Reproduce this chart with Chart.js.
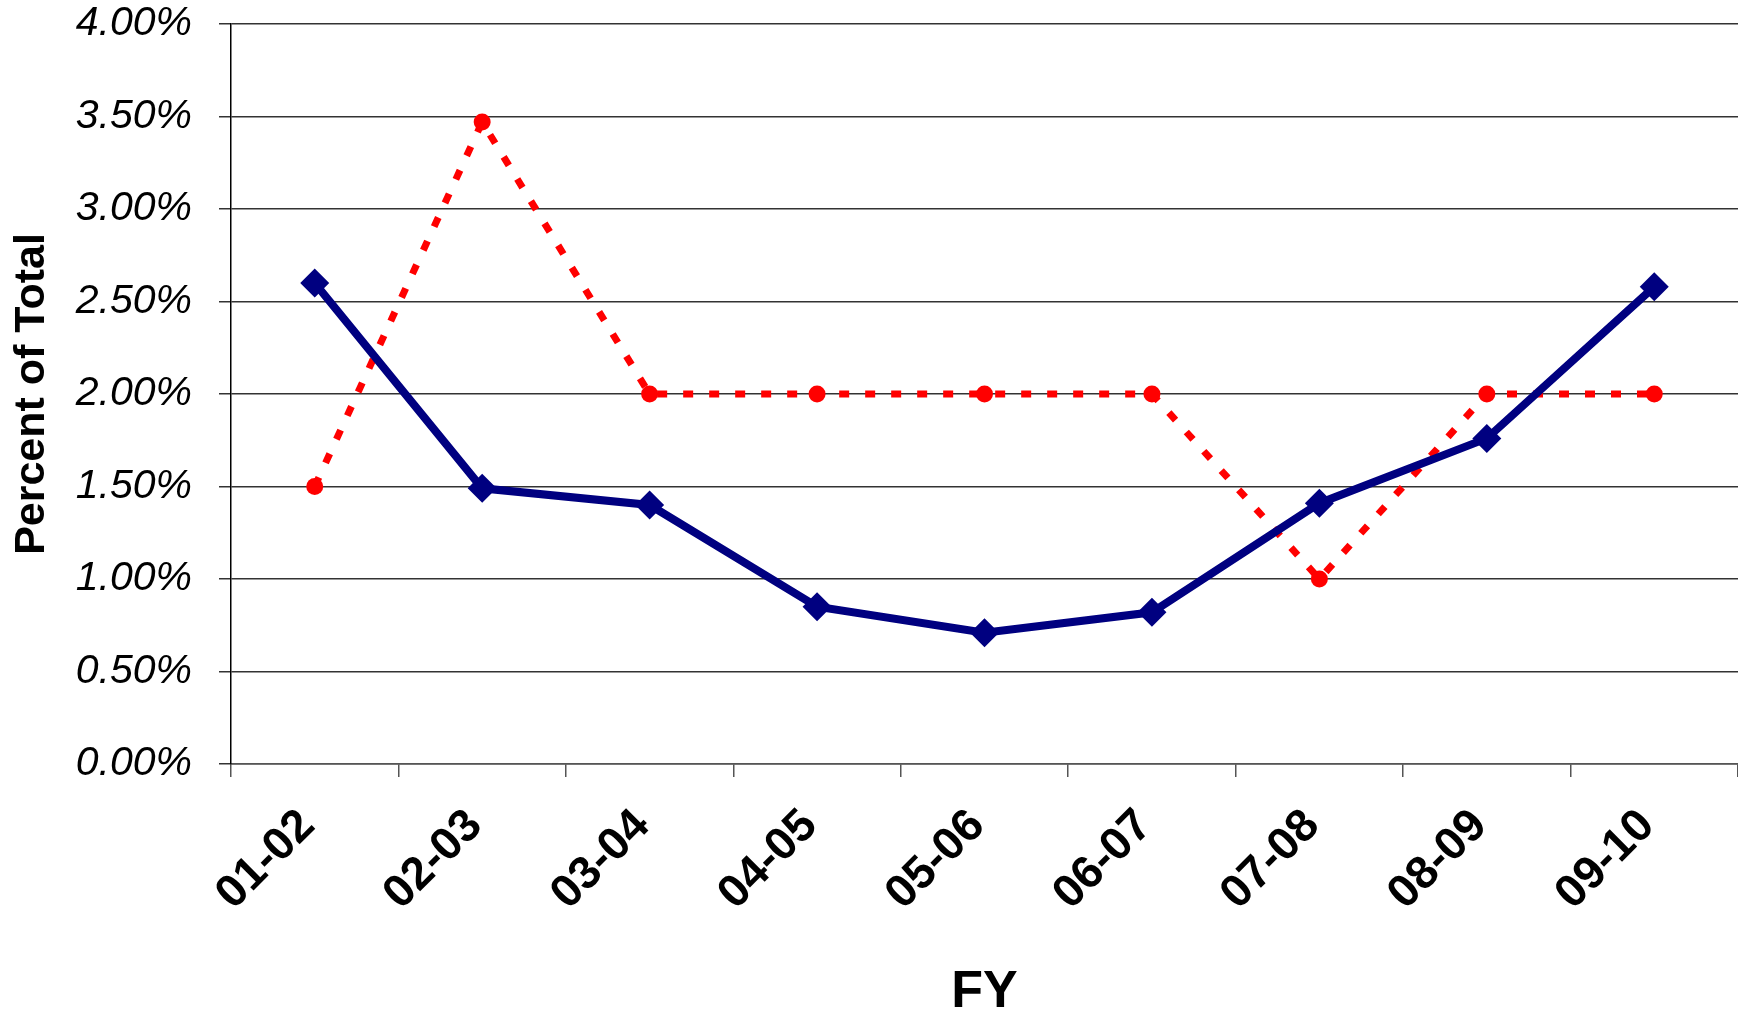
<!DOCTYPE html>
<html>
<head>
<meta charset="utf-8">
<script src="https://cdn.jsdelivr.net/npm/chart.js@4.4.0/dist/chart.umd.min.js"></script>
<style>
    html, body { margin: 0; padding: 0; background: #fff; }
    #wrap { width: 1738px; height: 1021px; }
</style>
</head>
<body>
<div id="wrap"><canvas id="chart" width="1738" height="1021"></canvas></div>
<script>
"use strict"

// Data
const years = ["01-02", "02-03", "03-04", "04-05", "05-06", "06-07", "07-08", "08-09", "09-10"];
const blueValues = [2.60, 1.49, 1.40, 0.85, 0.71, 0.82, 1.41, 1.76, 2.58];
const redValues = [1.50, 3.47, 2.00, 2.00, 2.00, 2.00, 1.00, 2.00, 2.00];
const yTicks = [0, 0.5, 1, 1.5, 2, 2.5, 3, 3.5, 4];

const FONT = "'Liberation Sans', Arial, Helvetica, sans-serif";

const ctx = document.getElementById("chart").getContext("2d");

new Chart(ctx, {
    type: "line",
    data: {
        labels: years,
        datasets: [
            {
                label: "Series 1",
                data: blueValues,
                borderColor: "#000080",
                backgroundColor: "#000080",
                borderWidth: 8,
                pointStyle: "rectRot",
                pointRadius: 14.5,
                pointBorderWidth: 0,
                tension: 0
            },
            {
                label: "Series 2",
                data: redValues,
                borderColor: "#ff0000",
                backgroundColor: "#ff0000",
                borderWidth: 7,
                borderDash: [10, 16],
                pointStyle: "circle",
                pointRadius: 8.5,
                pointBorderWidth: 0,
                tension: 0
            }
        ]
    },
    options: {
        responsive: false,
        animation: false,
        layout: { padding: 0, autoPadding: false },
        plugins: {
            legend: { display: false },
            tooltip: { enabled: false }
        },
        scales: {
            x: {
                offset: true,
                grid: {
                    offset: true,
                    drawOnChartArea: false,
                    drawTicks: true,
                    tickLength: 13,
                    color: "#555",
                    lineWidth: 1.5
                },
                border: { color: "#555", width: 1.5 },
                ticks: {
                    autoSkip: false,
                    minRotation: 45,
                    maxRotation: 45,
                    labelOffset: -7,
                    padding: 22,
                    color: "#000",
                    font: { family: FONT, size: 46, weight: "bold" }
                },
                title: {
                    display: true,
                    text: "FY",
                    color: "#000",
                    padding: { top: 0, bottom: 2 },
                    font: { family: FONT, size: 52, weight: "bold", lineHeight: 1 }
                },
                afterFit: (scale) => {
                    scale.height = 257;
                    scale.paddingLeft = 0;
                    scale.paddingRight = 0;
                }
            },
            y: {
                min: 0,
                max: 4,
                afterBuildTicks: (scale) => { scale.ticks = yTicks.map(v => ({ value: v })); },
                grid: {
                    color: "#333",
                    lineWidth: 1.5,
                    tickLength: 12
                },
                border: { color: "#000", width: 1.5 },
                ticks: {
                    padding: 27,
                    color: "#000",
                    font: { family: FONT, size: 41, style: "italic" },
                    callback: (v) => v.toFixed(2) + "%"
                },
                title: {
                    display: true,
                    text: "Percent of Total",
                    color: "#000",
                    padding: { top: 6, bottom: 0 },
                    font: { family: FONT, size: 43, weight: "bold" }
                },
                afterFit: (scale) => {
                    scale.width = 231;
                    scale.paddingTop = 24;
                    scale.paddingBottom = 0;
                }
            }
        }
    }
});
</script>
</body>
</html>
